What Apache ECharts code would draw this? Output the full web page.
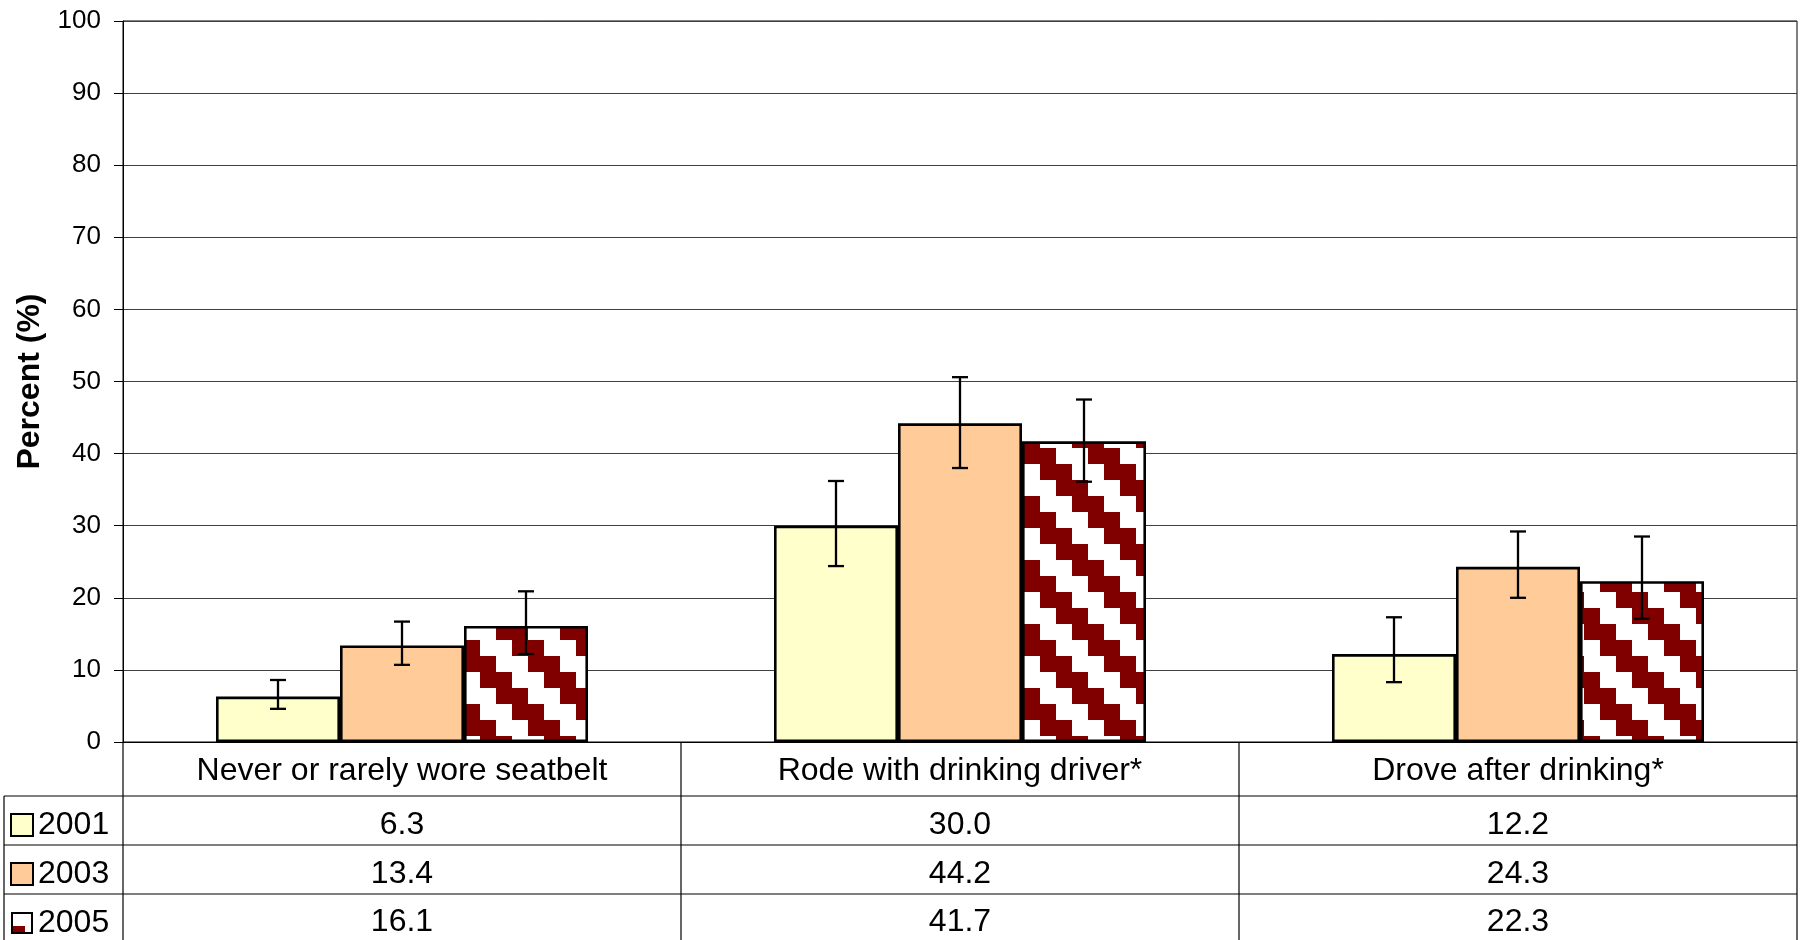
<!DOCTYPE html>
<html>
<head>
<meta charset="utf-8">
<script src="https://cdn.jsdelivr.net/npm/echarts@6/dist/echarts.min.js"></script>
<style>
html,body{margin:0;padding:0;background:#fff;}
#chart{width:1803px;height:940px;}
</style>
</head>
<body>
<div id="chart"></div>
<script>
// ---- data ----
const categories = ['Never or rarely wore seatbelt', 'Rode with drinking driver*', 'Drove after drinking*'];
const years = ['2001', '2003', '2005'];
const values2001 = [6.3, 30.0, 12.2];
const values2003 = [13.4, 44.2, 24.3];
const values2005 = [16.1, 41.7, 22.3];
const low2001 = [4.6, 24.4, 8.3];
const high2001 = [8.6, 36.2, 17.3];
const low2003 = [10.7, 38.0, 20.0];
const high2003 = [16.7, 50.6, 29.2];
const low2005 = [12.2, 36.1, 17.1];
const high2005 = [20.9, 47.5, 28.5];
const yTicks = [0, 10, 20, 30, 40, 50, 60, 70, 80, 90, 100];

const seriesValues = [values2001, values2003, values2005];
const seriesLow = [low2001, low2003, low2005];
const seriesHigh = [high2001, high2003, high2005];

// ---- styles ----
const FONT = 'Liberation Sans, Arial, sans-serif';
const colors = ['#FFFFCC', '#FFCC99'];

function makePattern() {
  const c = document.createElement('canvas');
  c.width = 64; c.height = 64;
  const g = c.getContext('2d');
  g.fillStyle = '#ffffff'; g.fillRect(0, 0, 64, 64);
  g.fillStyle = '#800000';
  for (let r = 0; r < 4; r++) {
    for (let k = -1; k <= 1; k++) {
      g.fillRect(16 * r + 64 * k, 16 * r, 32, 16);
    }
  }
  return c;
}
function makeLegendIcon() {
  const c = document.createElement('canvas');
  c.width = 22; c.height = 22;
  const g = c.getContext('2d');
  g.fillStyle = '#ffffff'; g.fillRect(0, 0, 22, 22);
  g.fillStyle = '#800000'; g.fillRect(2, 14, 12, 6);
  g.strokeStyle = '#000'; g.lineWidth = 2; g.strokeRect(1, 1, 20, 20);
  return c.toDataURL();
}
const pattern = { image: makePattern(), repeat: 'repeat' };
const fills = [colors[0], colors[1], pattern];

// ---- layout ----
const W = 1803, H = 940;
const GL = 123, GR = 1797, GT = 21, GB = 742;
const rowLines = [796, 845, 894];
const LEGL = 4;
const catLabelY = 771;
const rowTextY = [825, 874, 922];
const TFS = 32;

const chart = echarts.init(document.getElementById('chart'), null, { renderer: 'canvas' });

const xAxes = [{
  type: 'category', data: categories, gridIndex: 0, position: 'bottom',
  axisLine: { show: true, lineStyle: { color: '#000', width: 1 } },
  axisTick: { show: false },
  axisLabel: { show: false },
  offset: 0
}];
xAxes.push({
  type: 'category', data: categories, gridIndex: 0, position: 'bottom', offset: catLabelY - GB,
  axisLine: { show: false }, axisTick: { show: false }, splitLine: { show: false },
  axisLabel: { show: true, margin: 0, verticalAlign: 'middle', fontFamily: FONT, fontSize: TFS, color: '#000', interval: 0 }
});
seriesValues.forEach((vals, i) => {
  xAxes.push({
    type: 'category', data: categories, gridIndex: 0, position: 'bottom', offset: rowTextY[i] - GB,
    axisLine: { show: false }, axisTick: { show: false }, splitLine: { show: false },
    axisLabel: {
      show: true, margin: 0, verticalAlign: 'middle', fontFamily: FONT, fontSize: TFS, color: '#000', interval: 0,
      formatter: (v, idx) => vals[idx].toFixed(1)
    }
  });
});

const series = [];
years.forEach((y, i) => {
  series.push({
    name: y, type: 'bar', xAxisIndex: 0, yAxisIndex: 0,
    data: seriesValues[i],
    barGap: '0%', barCategoryGap: '33.33%',
    itemStyle: { color: fills[i], borderColor: '#000', borderWidth: 2.6 },
    emphasis: { disabled: true },
    z: 2
  });
});
years.forEach((y, i) => {
  const data = categories.map((c, j) => [j, seriesLow[i][j], seriesHigh[i][j]]);
  series.push({
    type: 'custom', xAxisIndex: 0, yAxisIndex: 0, z: 5, silent: true,
    encode: { x: 0, y: [1, 2] },
    data: data,
    renderItem: function (params, api) {
      const xc0 = api.coord([api.value(0), 0])[0];
      const band = api.size([1, 0])[0];
      const bw = band * (2 / 3) / 3;
      const xc = xc0 + (i - 1) * bw;
      const yl = api.coord([api.value(0), api.value(1)])[1];
      const yh = api.coord([api.value(0), api.value(2)])[1];
      const cap = 8;
      const st = { stroke: '#000', lineWidth: 2.3 };
      return {
        type: 'group',
        children: [
          { type: 'line', shape: { x1: xc, y1: yl, x2: xc, y2: yh }, style: st },
          { type: 'line', shape: { x1: xc - cap, y1: yl, x2: xc + cap, y2: yl }, style: st },
          { type: 'line', shape: { x1: xc - cap, y1: yh, x2: xc + cap, y2: yh }, style: st }
        ]
      };
    }
  });
});

// table lines
const graphics = [];
const lineStyle = { stroke: '#000', lineWidth: 1.2 };
rowLines.forEach(y => {
  graphics.push({ type: 'line', shape: { x1: LEGL, y1: y, x2: GR, y2: y }, style: lineStyle, silent: true });
});
graphics.push({ type: 'line', shape: { x1: LEGL, y1: rowLines[0], x2: LEGL, y2: H }, style: lineStyle, silent: true });
for (let i = 0; i <= categories.length; i++) {
  const x = GL + i * (GR - GL) / categories.length;
  graphics.push({ type: 'line', shape: { x1: x, y1: GB, x2: x, y2: H }, style: lineStyle, silent: true });
}

chart.setOption({
  animation: false,
  backgroundColor: '#fff',
  grid: { left: GL, right: W - GR, top: GT, bottom: H - GB, show: true, borderColor: '#000', borderWidth: 1, backgroundColor: 'transparent' },
  legend: {
    orient: 'vertical', left: 10, top: rowTextY[0] - 16, padding: 0,
    itemWidth: 22, itemHeight: 22, itemGap: 17,
    selectedMode: false,
    textStyle: { fontFamily: FONT, fontSize: TFS, color: '#000', lineHeight: 32, padding: [0, 0, 0, 0] },
    data: [
      { name: '2001', icon: 'rect', itemStyle: { borderColor: '#000', borderWidth: 2 } },
      { name: '2003', icon: 'rect', itemStyle: { borderColor: '#000', borderWidth: 2 } },
      { name: '2005', icon: 'image://' + makeLegendIcon() }
    ]
  },
  xAxis: xAxes,
  yAxis: {
    type: 'value', min: yTicks[0], max: yTicks[yTicks.length - 1], interval: 10,
    name: 'Percent (%)', nameLocation: 'middle', nameGap: 77,
    nameTextStyle: { fontFamily: FONT, fontSize: 32, fontWeight: 'bold', color: '#000' },
    axisLine: { show: true, lineStyle: { color: '#000', width: 1 } },
    axisTick: { show: true, inside: false, length: 9, lineStyle: { color: '#000', width: 1 } },
    axisLabel: { margin: 22, fontFamily: FONT, fontSize: 26, color: '#000' },
    splitLine: { show: true, lineStyle: { color: '#404040', width: 1.2 } }
  },
  series: series,
  graphic: graphics
});
</script>
</body>
</html>
